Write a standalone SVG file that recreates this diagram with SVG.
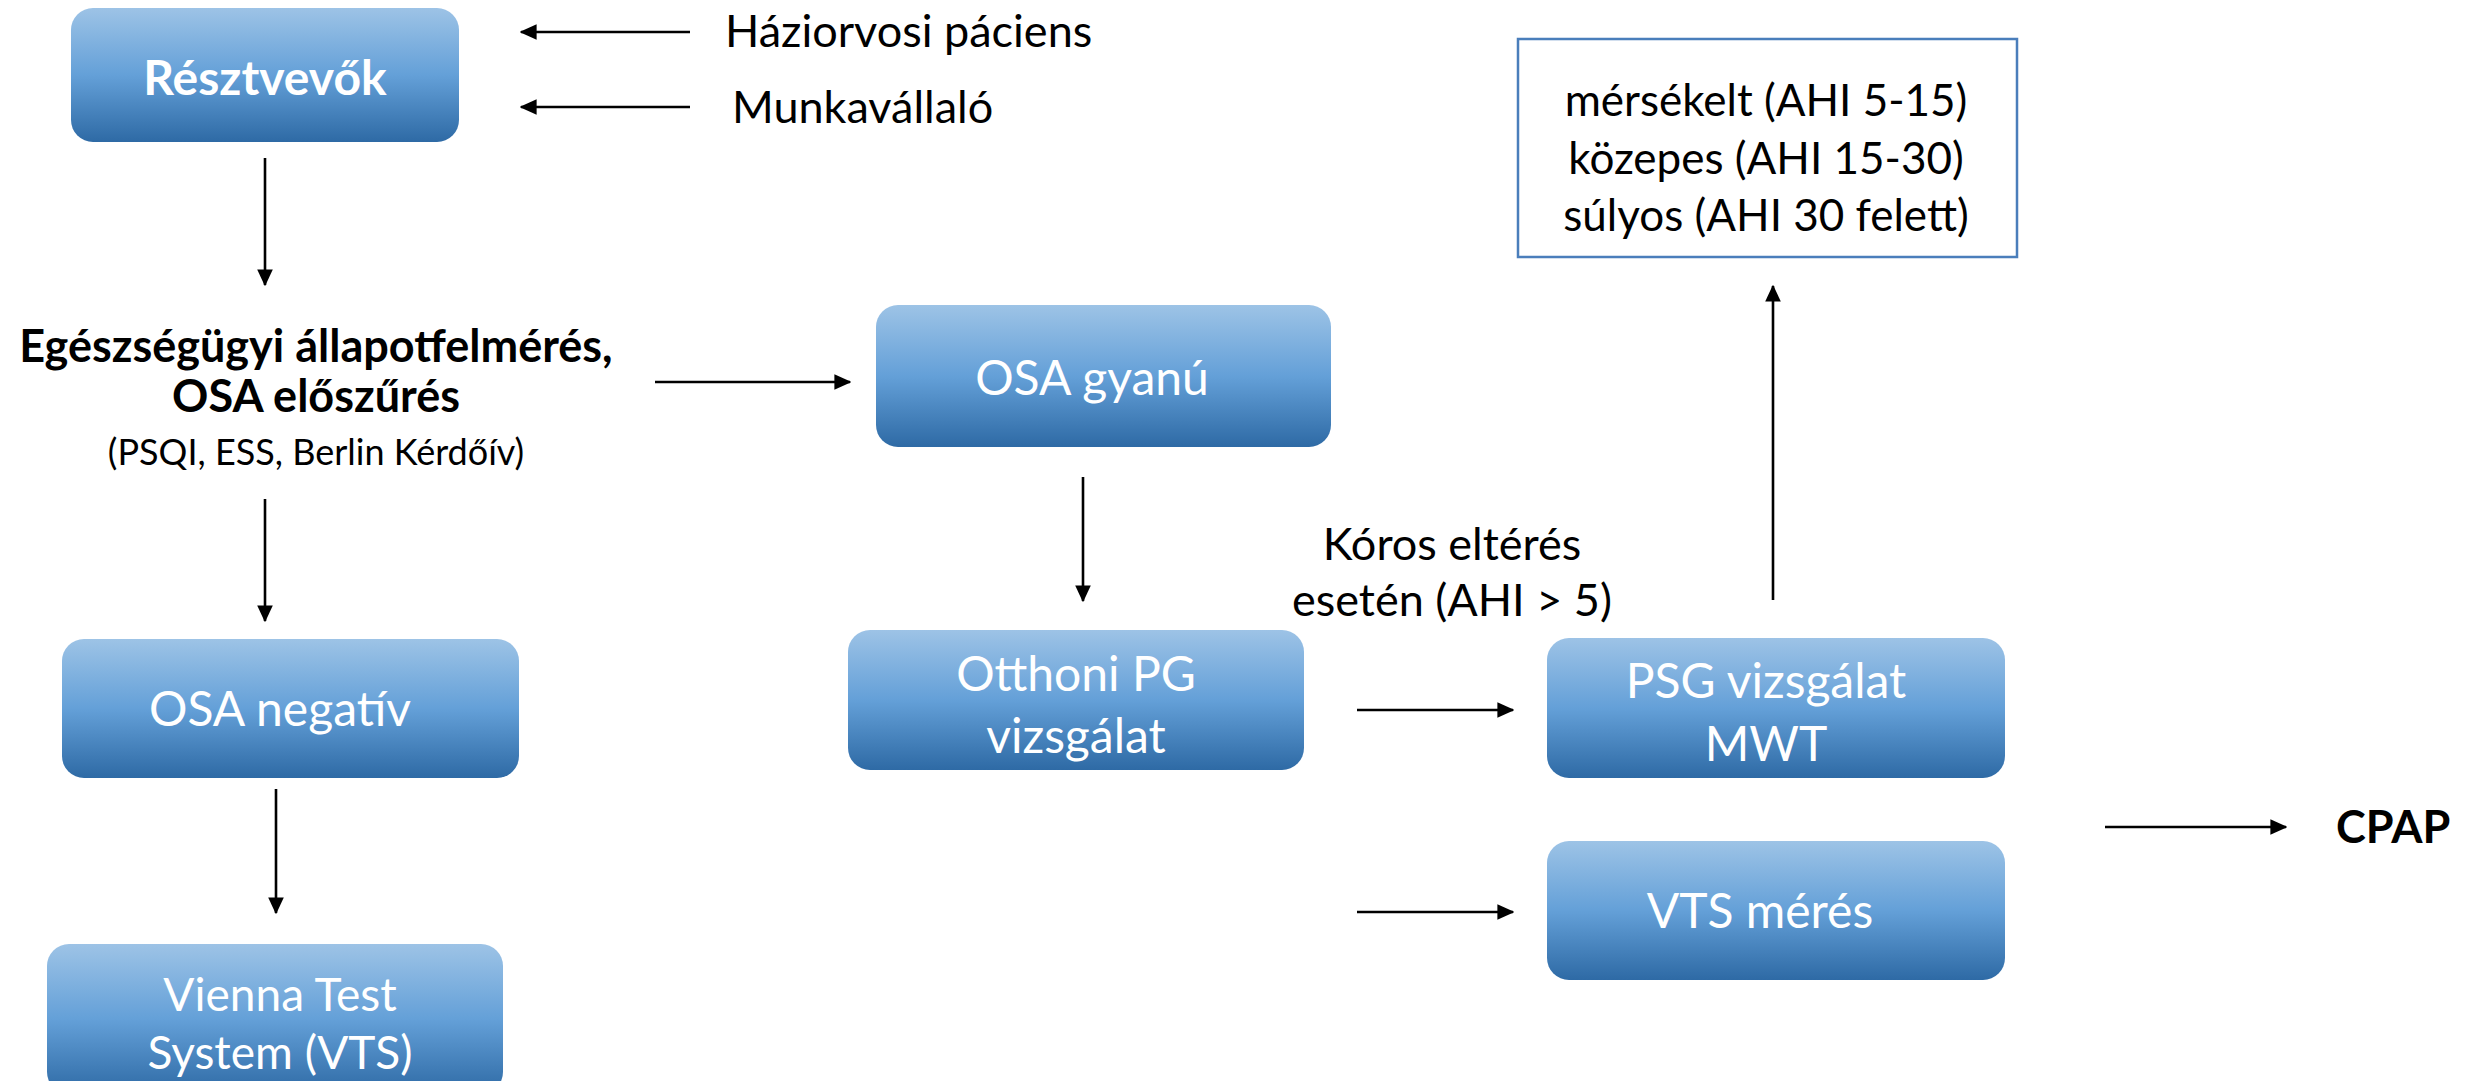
<svg xmlns="http://www.w3.org/2000/svg" width="2475" height="1081" viewBox="0 0 2475 1081">
<defs>
<linearGradient id="g" x1="0" y1="0" x2="0" y2="1">
<stop offset="0" stop-color="#9DC3E6"/>
<stop offset="0.5" stop-color="#64A0D8"/>
<stop offset="1" stop-color="#2E6AA5"/>
</linearGradient>
<marker id="ah" markerWidth="6.5" markerHeight="6" refX="6" refY="3" orient="auto" markerUnits="strokeWidth">
<path d="M0,0 L6.5,3 L0,6 Z" fill="#000"/>
</marker>
</defs>
<style>
.n{fill:url(#g);}
.t{font-family:Lato,"Open Sans",sans-serif;fill:#fff;text-anchor:middle;font-size:48px;}
.b{font-family:Lato,"Open Sans",sans-serif;fill:#000;font-size:45px;}
.m{text-anchor:middle;}
.c{stroke:#000;stroke-width:2.6;fill:none;marker-end:url(#ah);}
</style>
<rect width="2475" height="1081" fill="#fff"/>
<g id="resztvevok"><rect class="n" x="71" y="8" width="388" height="134" rx="22"/><text class="t" x="265" y="95" font-weight="bold">Résztvevők</text></g>
<g id="haziorvosi"><text class="b" x="725" y="47">Háziorvosi páciens</text></g>
<g id="munkavallalo"><text class="b" x="732" y="123">Munkavállaló</text></g>
<g id="felmeres">
<text class="b m" x="316" y="362" font-weight="bold">Egészségügyi állapotfelmérés,</text>
<text class="b m" x="316" y="412" font-weight="bold">OSA előszűrés</text>
<text class="b m" x="316" y="465" style="font-size:36px">(PSQI, ESS, Berlin Kérdőív)</text>
</g>
<g id="osagyanu"><rect class="n" x="876" y="305" width="455" height="142" rx="22"/><text class="t" x="1092" y="395">OSA gyanú</text></g>
<g id="otthoni"><rect class="n" x="848" y="630" width="456" height="140" rx="22"/><text class="t" x="1076" y="691">Otthoni PG</text><text class="t" x="1076" y="753">vizsgálat</text></g>
<g id="osanegativ"><rect class="n" x="62" y="639" width="457" height="139" rx="22"/><text class="t" x="280" y="726">OSA negatív</text></g>
<g id="vienna"><rect class="n" x="47" y="944" width="456" height="150" rx="22"/><text class="t" x="280" y="1011" style="font-size:46px">Vienna Test</text><text class="t" x="280" y="1069" style="font-size:46px">System (VTS)</text></g>
<g id="koros"><text class="b m" x="1452" y="560">Kóros eltérés</text><text class="b m" x="1452" y="616">esetén (AHI &gt; 5)</text></g>
<g id="psg"><rect class="n" x="1547" y="638" width="458" height="140" rx="22"/><text class="t" x="1766" y="698">PSG vizsgálat</text><text class="t" x="1766" y="761">MWT</text></g>
<g id="sulyossag"><rect x="1518" y="39" width="499" height="218" fill="#fff" stroke="#4A7EBB" stroke-width="2.5"/>
<text class="b m" x="1766" y="116" style="font-size:44px">mérsékelt (AHI 5-15)</text>
<text class="b m" x="1766" y="174" style="font-size:44px">közepes (AHI 15-30)</text>
<text class="b m" x="1766" y="231" style="font-size:44px">súlyos (AHI 30 felett)</text></g>
<g id="vtsmeres"><rect class="n" x="1547" y="841" width="458" height="139" rx="22"/><text class="t" x="1760" y="928">VTS mérés</text></g>
<g id="cpap"><text class="b" x="2336" y="843" font-weight="bold">CPAP</text></g>
<g id="connectors">
<line class="c" x1="690" y1="32" x2="521" y2="32"/>
<line class="c" x1="690" y1="107" x2="521" y2="107"/>
<line class="c" x1="265" y1="158" x2="265" y2="285"/>
<line class="c" x1="655" y1="382" x2="850" y2="382"/>
<line class="c" x1="1083" y1="477" x2="1083" y2="601"/>
<line class="c" x1="265" y1="499" x2="265" y2="621"/>
<line class="c" x1="276" y1="789" x2="276" y2="913"/>
<line class="c" x1="1357" y1="710" x2="1513" y2="710"/>
<line class="c" x1="1773" y1="600" x2="1773" y2="286"/>
<line class="c" x1="1357" y1="912" x2="1513" y2="912"/>
<line class="c" x1="2105" y1="827" x2="2286" y2="827"/>
</g>
</svg>
